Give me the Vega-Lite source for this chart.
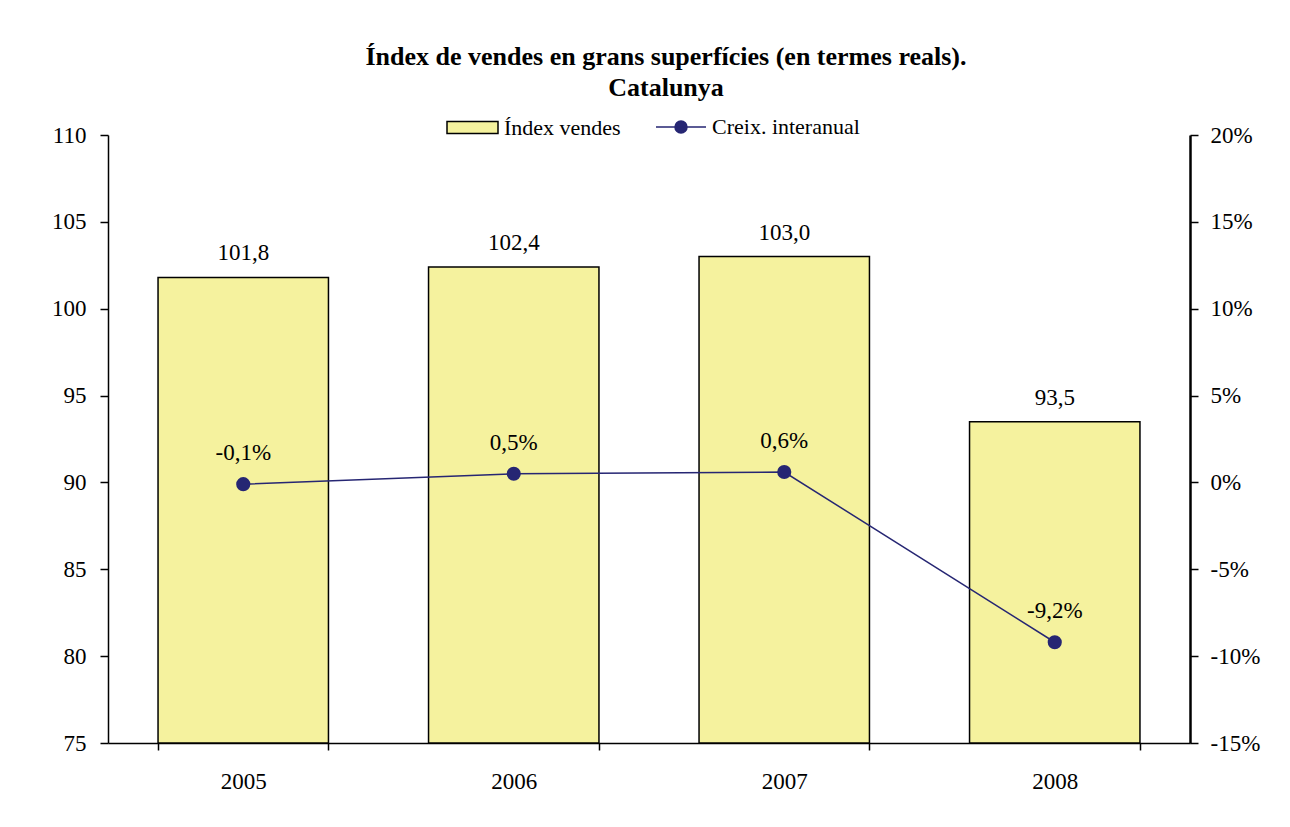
{
  "$schema": "https://vega.github.io/schema/vega-lite/v6.json",
  "width": 1082,
  "height": 608,
  "autosize": {"type": "none"},
  "padding": {"left": 108, "top": 135, "right": 100, "bottom": 84},
  "background": "white",
  "config": {
    "font": "Liberation Serif",
    "locale": {"number": {"decimal": ",", "thousands": ".", "grouping": [3], "currency": ["", " €"], "minus": "-"}},
    "view": {"stroke": null},
    "axis": {"labelFont": "Liberation Serif", "labelFontSize": 23, "labelColor": "black", "domainColor": "black", "tickColor": "black", "grid": false, "title": null, "domainWidth": 1.5, "tickWidth": 1.5}
  },
  "title": {"text": ["Índex de vendes en grans superfícies (en termes reals).", "Catalunya"], "fontSize": 26, "font": "Liberation Serif", "fontWeight": "bold", "anchor": "middle", "offset": 0, "lineHeight": 31, "dx": 17, "color": "black"},
  "data": {"values": [
    {"any": "2005", "index": 101.8, "creix": -0.001},
    {"any": "2006", "index": 102.4, "creix": 0.005},
    {"any": "2007", "index": 103.0, "creix": 0.006},
    {"any": "2008", "index": 93.5, "creix": -0.092}
  ]},
  "encoding": {
    "x": {"field": "any", "type": "nominal", "scale": {"paddingInner": 0.37, "paddingOuter": 0.185}, "axis": {"labelAngle": 0, "tickBand": "extent", "tickSize": 7, "labelPadding": 20}}
  },
  "layer": [
    {
      "layer": [
        {
          "mark": {"type": "bar", "stroke": "black", "strokeWidth": 1.5},
          "encoding": {
            "y": {"field": "index", "type": "quantitative", "scale": {"domain": [75, 110], "zero": false}, "axis": {"values": [75, 80, 85, 90, 95, 100, 105, 110], "tickSize": 8, "labelPadding": 14}},
            "y2": {"datum": 75},
            "fill": {"datum": "Índex vendes", "type": "nominal", "scale": {"range": ["#F5F29E"]}, "legend": {"title": null, "orient": "none", "legendX": 338, "legendY": -34, "symbolType": "M-1,-0.235H1V0.235H-1Z", "symbolSize": 2601, "symbolStrokeColor": "black", "symbolStrokeWidth": 1.5, "labelFont": "Liberation Serif", "labelFontSize": 22, "labelColor": "black", "labelOffset": 5, "padding": 0}}
          }
        },
        {
          "mark": {"type": "text", "baseline": "alphabetic", "dy": -17, "fontSize": 23, "font": "Liberation Serif", "color": "black"},
          "encoding": {
            "y": {"field": "index", "type": "quantitative"},
            "text": {"field": "index", "type": "quantitative", "format": ".1f"}
          }
        }
      ]
    },
    {
      "layer": [
        {
          "mark": {"type": "line", "strokeWidth": 1.5},
          "encoding": {
            "y": {"field": "creix", "type": "quantitative", "scale": {"domain": [-0.15, 0.2]}, "axis": {"orient": "right", "format": ".0%", "values": [-0.15, -0.1, -0.05, 0, 0.05, 0.1, 0.15, 0.2], "tickSize": 8, "labelPadding": 12, "domainWidth": 2.5}},
            "stroke": {"datum": "Creix. interanual", "type": "nominal", "scale": {"range": ["#262673"]}, "legend": {"title": null, "orient": "none", "legendX": 547, "legendY": -34, "symbolType": "M-1,0H1M-0.24,0A0.24,0.24,0,1,0,0.24,0A0.24,0.24,0,1,0,-0.24,0Z", "symbolSize": 2500, "symbolStrokeColor": "#262673", "symbolFillColor": "#262673", "symbolStrokeWidth": 1.5, "labelFont": "Liberation Serif", "labelFontSize": 22, "labelColor": "black", "labelOffset": 5, "padding": 0}}
          }
        },
        {
          "mark": {"type": "point", "filled": true, "size": 200, "color": "#262673", "opacity": 1},
          "encoding": {"y": {"field": "creix", "type": "quantitative"}}
        },
        {
          "mark": {"type": "text", "baseline": "alphabetic", "dy": -24, "fontSize": 23, "font": "Liberation Serif", "color": "black"},
          "encoding": {
            "y": {"field": "creix", "type": "quantitative"},
            "text": {"field": "creix", "type": "quantitative", "format": ".1%"}
          }
        }
      ]
    }
  ],
  "resolve": {"scale": {"y": "independent"}}
}
